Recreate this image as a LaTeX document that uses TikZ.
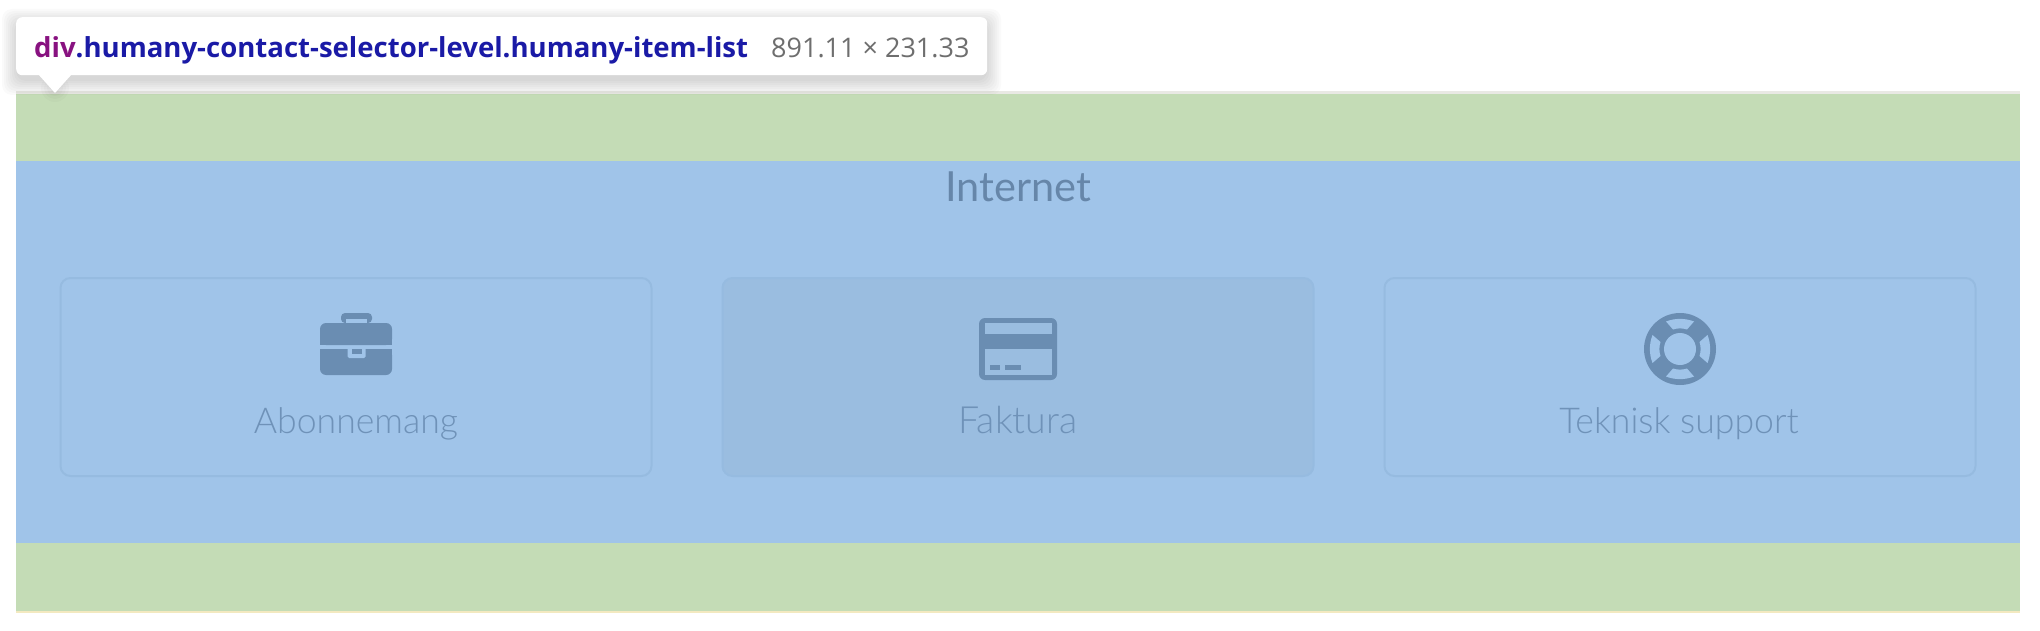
\documentclass[tikz,border=0pt]{standalone}
\usepackage{fontspec}
\setmainfont{Lato}
\newfontfamily\latolight{Lato Light}
\newfontfamily\tipfont{Open Sans}
\definecolor{bgblue}{HTML}{A0C4E9}
\definecolor{bggreen}{HTML}{C4DCB6}
\definecolor{bgyellow}{HTML}{F3E9C0}
\definecolor{bggray}{HTML}{E9E9E4}
\definecolor{icon}{HTML}{6A8DB2}
\definecolor{cardline}{HTML}{96BBE0}
\definecolor{cardhover}{HTML}{9ABDE0}
\definecolor{labeltext}{HTML}{6F92B8}
\definecolor{tagcol}{HTML}{881280}
\definecolor{classcol}{HTML}{1A1AA6}
\definecolor{dimcol}{HTML}{6E6E6E}
\tikzset{
  x=1pt,y=-1pt,
  band/.style={fill=#1,draw=none},
  cardbox/.style={draw=cardline,line width=2pt,rounded corners=10pt,anchor=north west,inner sep=0pt,
     minimum width=591pt,minimum height=198pt},
  cardlabel/.style={font=\fontsize{35.6}{40}\selectfont\latolight,text=labeltext,anchor=base,inner sep=0pt},
  iconfill/.style={fill=icon,draw=none},
  iconhole/.style={fill=#1,draw=none},
}
\begin{document}
\begin{tikzpicture}
\useasboundingbox (0,0) rectangle (2040,631);
\fill[white] (0,0) rectangle (2040,631);
% box-model bands
\fill[band=bggray] (16,91) rectangle (2020,94);
\fill[band=bggreen] (16,94) rectangle (2020,161);
\fill[band=bgblue] (16,161) rectangle (2020,543);
\fill[band=bggreen] (16,543) rectangle (2020,611);
\fill[band=bgyellow] (16,611) rectangle (2020,613);
% heading
\node[font=\fontsize{41.5}{44}\selectfont,text=labeltext!92!black,anchor=base,inner sep=0pt] (heading) at (1018,202) {Internet};
% cards
\node[cardbox] (card1) at (59.5,277) {};
\node[cardbox,fill=cardhover] (card2) at (721.5,277) {};
\node[cardbox] (card3) at (1383.5,277) {};
\node[cardlabel] (label1) at (356,433) {Abonnemang};
\node[cardlabel,font=\fontsize{37.5}{40}\selectfont\latolight] (label2) at (1018,433) {Faktura};
\node[cardlabel] (label3) at (1679,433) {Teknisk support};
% briefcase icon
\fill[iconfill,rounded corners=4pt] (341,323) -- (341,313) -- (372,313) -- (372,323) -- cycle;
\fill[iconhole=bgblue] (346,319) rectangle (367,323.5);
\fill[iconfill,rounded corners=6pt] (320,345) -- (320,323) -- (392,323) -- (392,345) -- cycle;
\fill[iconfill,rounded corners=6pt] (320,349) -- (392,349) -- (392,375) -- (320,375) -- cycle;
\fill[iconfill] (320,340) rectangle (392,345);
\fill[iconfill] (320,349) rectangle (392,355);
\fill[iconhole=bgblue,rounded corners=1.5pt] (347.5,347) -- (347.5,358) -- (365.5,358) -- (365.5,347) -- cycle;
\fill[iconfill] (351.5,349) rectangle (361.5,354);
% credit-card icon
\fill[iconfill,rounded corners=6pt] (979,318) rectangle (1057,380);
\fill[iconhole=cardhover] (984.5,323) rectangle (1051.5,375);
\fill[iconfill] (984.5,334) rectangle (1051.5,349);
\fill[iconfill] (990,365) rectangle (1000,370);
\fill[iconfill] (1005,365) rectangle (1021,370);
% lifebuoy icon
\begin{scope}[shift={(1680,349)}]
  \fill[iconfill] (0,0) circle[radius=36];
  \foreach \a in {0,90,180,270}{
    \fill[iconhole=bgblue,rotate=\a]
      (-14,-27.5) .. controls (-5,-31) and (5,-31) .. (14,-27.5)
      -- (7,-19.5) .. controls (2.5,-21) and (-2.5,-21) .. (-7,-19.5) -- cycle;
  }
  \fill[iconhole=bgblue] (0,0) circle[radius=16];
\end{scope}
% tooltip shadow
\foreach \s in {14,12,10,8,6,4,2,0}{
  \fill[black,opacity=0.02,rounded corners=10pt]
    (16-\s,17-\s+6) rectangle (987+\s,75+\s+6);
}
\foreach \s in {14,11,8,5,3}{
  \fill[black,opacity=0.018] (55,88) circle[radius=\s];
}
% tooltip
\node[fill=white,draw=none,rounded corners=6pt,anchor=north west,inner sep=0pt,minimum width=971pt,minimum height=58pt] (tip) at (16,17) {};
\fill[white] (38,74) -- (72,74) -- (55,93) -- cycle;
\node[font=\fontsize{27.55}{32}\selectfont\tipfont\bfseries,anchor=base west,inner sep=0pt] (tiptext) at (34,58)
  {\textcolor{tagcol}{div}\textcolor{classcol}{.humany-contact-selector-level.humany-item-list}};
\node[font=\fontsize{27}{32}\selectfont\tipfont,text=dimcol,anchor=base west,inner sep=0pt] (tipdim) at (771,58) {891.11 × 231.33};
\end{tikzpicture}
\end{document}
